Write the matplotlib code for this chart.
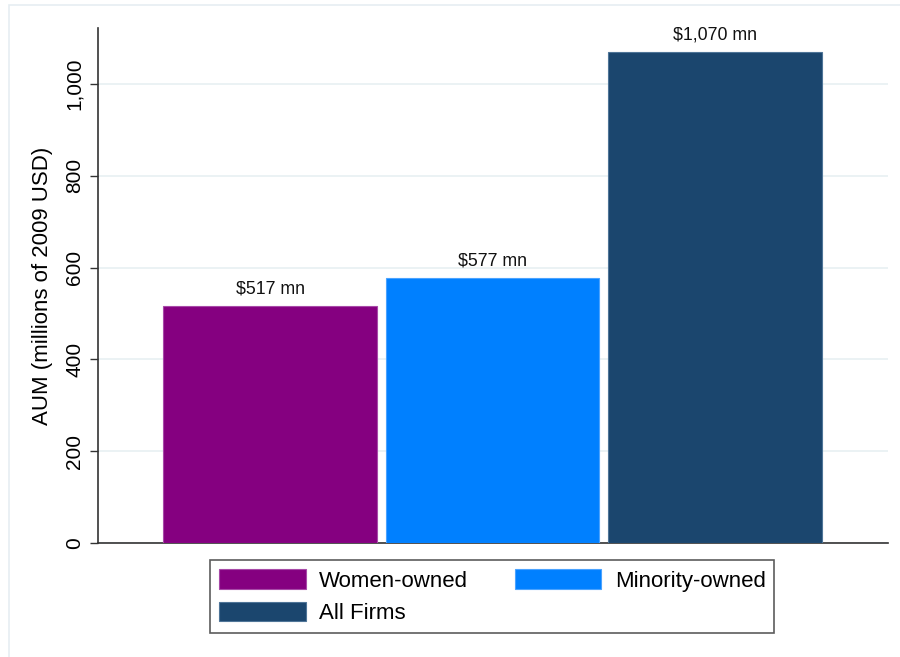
import matplotlib.pyplot as plt
import matplotlib.patches as mpatches
from matplotlib.ticker import FuncFormatter

# Average AUM by firm ownership type
groups = ['Women-owned', 'Minority-owned', 'All Firms']
aum = [517, 577, 1070]
labels = ['$517 mn', '$577 mn', '$1,070 mn']
colors = ['#850080', '#0080FF', '#1B466E']
edges = ['#a84aa8', '#4aa3ff', '#4f7598']

plt.rcParams['font.family'] = ['Liberation Sans', 'DejaVu Sans']

fig = plt.figure(figsize=(9, 6.57), dpi=100)
fig.patch.set_facecolor('white')

# light outline of the graph region
fig.add_artist(mpatches.Rectangle((9 / 900, -0.01), 1.0, 1 - 5 / 657 + 0.01,
                                  transform=fig.transFigure, fill=False,
                                  edgecolor='#e6eef2', linewidth=1.2))

ax = fig.add_axes([98 / 900, (657 - 543) / 657, (888 - 98) / 900, (543 - 28) / 657])

x = range(len(groups))
bars = ax.bar(x, aum, width=0.96, color=colors, edgecolor=edges, linewidth=0.8, zorder=3)

for xi, v, lab in zip(x, aum, labels):
    ax.text(xi, v + 18, lab, ha='center', va='bottom', fontsize=12.8, color='#111111')

ax.set_xlim(-0.773, 2.777)
ax.set_ylim(0, 1122)
ax.set_yticks([0, 200, 400, 600, 800, 1000])
ax.yaxis.set_major_formatter(FuncFormatter(lambda v, p: f'{int(v):,}'))
ax.set_xticks([])
for t in ax.get_yticklabels():
    t.set_rotation(90)
    t.set_va('center')
ax.tick_params(axis='y', length=6, width=1, color='#333333', labelsize=15, pad=4)
ax.yaxis.grid(True, color='#e8f0f2', linewidth=1.2, zorder=0)
ax.set_axisbelow(True)
ax.set_ylabel('AUM (millions of 2009 USD)', fontsize=16, labelpad=9)

for s in ['top', 'right']:
    ax.spines[s].set_visible(False)
for s in ['left', 'bottom']:
    ax.spines[s].set_color('#333333')
    ax.spines[s].set_linewidth(1.2)

# legend filled row by row: matplotlib fills columns first, so reorder
order = [0, 2, 1]
handles = [mpatches.Patch(facecolor=colors[i], edgecolor=edges[i], linewidth=0.8) for i in order]
leg = fig.legend(handles, [groups[i] for i in order], ncol=2, loc='upper left',
                 bbox_to_anchor=(199 / 900, 1 - 549 / 657),
                 fontsize=16, frameon=True, fancybox=False,
                 handlelength=3.9, handleheight=1.0, handletextpad=0.6,
                 columnspacing=2.1, labelspacing=0.45, borderpad=0.4)
leg.get_frame().set_edgecolor('#333333')
leg.get_frame().set_linewidth(1.2)

fig.savefig('out.png', dpi=100)
